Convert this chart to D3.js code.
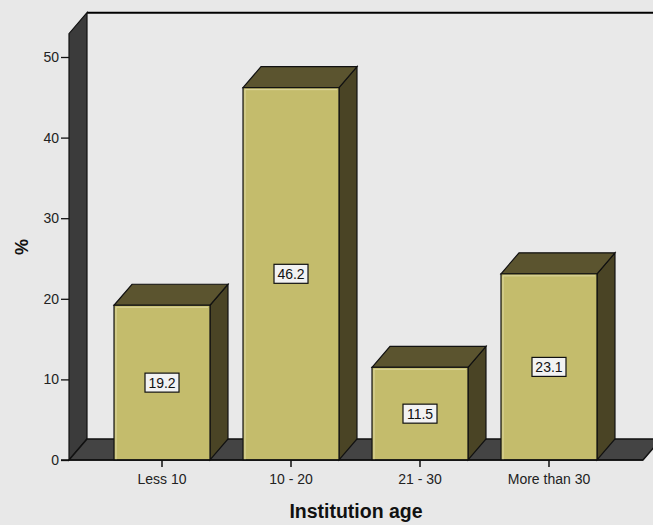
<!DOCTYPE html>
<html>
<head>
<meta charset="utf-8">
<script src="https://cdn.jsdelivr.net/npm/d3@7"></script>
<style>
  html, body { margin: 0; padding: 0; background: #e8e8e8; }
  svg { display: block; font-family: Arial, "Liberation Sans", sans-serif; }
</style>
</head>
<body>
<svg id="chart" width="653" height="525"></svg>
<script>
// Institution age distribution (percent of respondents)
const categories = ["Less 10", "10 - 20", "21 - 30", "More than 30"];
const percents = [19.2, 46.2, 11.5, 23.1];
const yTicks = [0, 10, 20, 30, 40, 50];
const xTitle = "Institution age";
const yTitle = "%";

const W = 653, H = 525;
const depthX = 18, depthY = -21;   // 3D depth offset
const svg = d3.select("#chart");

const x = d3.scaleBand()
  .domain(categories)
  .range([69, 642])
  .paddingInner(0.256)
  .paddingOuter(0.349);

const y = d3.scaleLinear().domain([0, 50]).range([460, 57]);
const yTop = y(52.9);

const colors = {
  front: "#c4bc6c",
  top: "#5b542f",
  side: "#4a4425",
  wall: "#3b3b3b",
  floor: "#444444"
};

// back wall
svg.append("rect")
  .attr("x", 69 + depthX).attr("y", yTop + depthY)
  .attr("width", W).attr("height", y(0) - yTop)
  .attr("fill", "#e9e9e9");
svg.append("line")
  .attr("x1", 69 + depthX).attr("x2", W)
  .attr("y1", yTop + depthY).attr("y2", yTop + depthY)
  .attr("stroke", "#000").attr("stroke-width", 2);

// left wall
const x0 = 69;
svg.append("path")
  .attr("d", `M${x0},${y(0)} L${x0},${yTop} L${x0 + depthX},${yTop + depthY} L${x0 + depthX},${y(0) + depthY} Z`)
  .attr("fill", colors.wall).attr("stroke", "#111").attr("stroke-width", 1.2);

// floor
const xEnd = 643;
svg.append("path")
  .attr("d", `M${x0},${y(0)} L${x0 + depthX},${y(0) + depthY} L${xEnd + depthX},${y(0) + depthY} L${xEnd},${y(0)} Z`)
  .attr("fill", colors.floor).attr("stroke", "#111").attr("stroke-width", 1.5);

// bars
const bars = svg.append("g").selectAll("g")
  .data(categories.map((c, i) => ({ c, v: percents[i] })))
  .join("g");

bars.append("path") // side face
  .attr("d", d => {
    const x1 = x(d.c) + x.bandwidth(), t = y(d.v), b = y(0);
    return `M${x1},${b} L${x1},${t} L${x1 + depthX},${t + depthY} L${x1 + depthX},${b + depthY} Z`;
  })
  .attr("fill", colors.side).attr("stroke", "#111").attr("stroke-width", 1.2);

bars.append("path") // top face
  .attr("d", d => {
    const xa = x(d.c), xb = xa + x.bandwidth(), t = y(d.v);
    return `M${xa},${t} L${xa + depthX},${t + depthY} L${xb + depthX},${t + depthY} L${xb},${t} Z`;
  })
  .attr("fill", colors.top).attr("stroke", "#111").attr("stroke-width", 1.2);

bars.append("rect") // front face
  .attr("x", d => x(d.c)).attr("y", d => y(d.v))
  .attr("width", x.bandwidth()).attr("height", d => y(0) - y(d.v))
  .attr("fill", colors.front).attr("stroke", "#111").attr("stroke-width", 1.2);

bars.append("path") // inner highlight
  .attr("d", d => {
    const xa = x(d.c) + 2, xb = x(d.c) + x.bandwidth() - 2, t = y(d.v) + 2, b = y(0);
    return `M${xa},${b} L${xa},${t} L${xb},${t}`;
  })
  .attr("fill", "none").attr("stroke", "#ddd7a0").attr("stroke-width", 1);

// value labels
const lbl = bars.append("g")
  .attr("transform", d => `translate(${x(d.c) + x.bandwidth() / 2},${y(d.v / 2)})`);
lbl.append("rect")
  .attr("x", -17).attr("y", -9.5).attr("width", 34).attr("height", 19)
  .attr("fill", "#f2f2f2").attr("stroke", "#111").attr("stroke-width", 1.2);
lbl.append("text")
  .attr("text-anchor", "middle").attr("dy", "0.36em")
  .attr("font-size", 14).attr("fill", "#111")
  .text(d => d.v.toFixed(1));

// y axis
const yAxis = svg.append("g")
  .attr("transform", `translate(${x0},0)`)
  .call(d3.axisLeft(y).tickValues(yTicks).tickSize(8).tickPadding(2));
yAxis.select(".domain").remove();
yAxis.selectAll("line").attr("stroke", "#111").attr("stroke-width", 1.3);
yAxis.selectAll("text").attr("font-size", 14).attr("fill", "#222")
  .attr("font-family", "Arial, 'Liberation Sans', sans-serif");

// x axis
const xAxis = svg.append("g")
  .attr("transform", `translate(0,${y(0)})`)
  .call(d3.axisBottom(x).tickSize(7).tickPadding(7));
xAxis.select(".domain").remove();
xAxis.selectAll("line").attr("stroke", "#111").attr("stroke-width", 1.5);
xAxis.selectAll("text").attr("font-size", 14).attr("fill", "#222")
  .attr("font-family", "Arial, 'Liberation Sans', sans-serif");
// baseline
svg.append("line")
  .attr("x1", x0 - 8).attr("x2", xEnd).attr("y1", y(0)).attr("y2", y(0))
  .attr("stroke", "#111").attr("stroke-width", 1.5);

// titles
svg.append("text")
  .attr("x", 356).attr("y", 518)
  .attr("text-anchor", "middle").attr("font-size", 19.5).attr("font-weight", "bold")
  .attr("fill", "#111").text(xTitle);
svg.append("text")
  .attr("transform", `translate(28,247) rotate(-90)`)
  .attr("text-anchor", "middle").attr("font-size", 18).attr("font-weight", "bold")
  .attr("fill", "#111").text(yTitle);
</script>
</body>
</html>
